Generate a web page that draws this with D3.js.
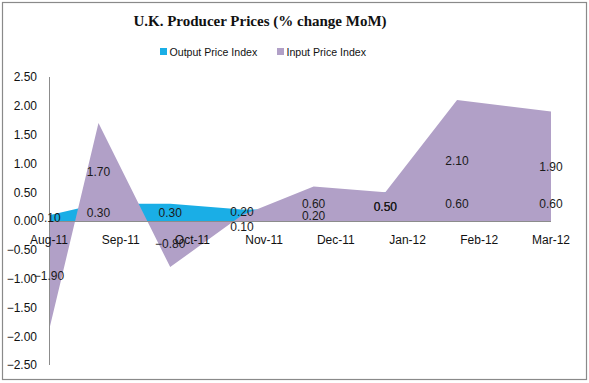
<!DOCTYPE html>
<html><head><meta charset="utf-8">
<script src="https://cdn.jsdelivr.net/npm/d3@7"></script>
<style>body{margin:0;background:#fff}svg{display:block}</style>
</head><body>
<svg id="c" width="589" height="383"></svg>
<script>
const categories = ["Aug-11","Sep-11","Oct-11","Nov-11","Dec-11","Jan-12","Feb-12","Mar-12"];
const outputPrice = [0.10,0.30,0.30,0.20,0.20,0.50,0.60,0.60];
const inputPrice = [-1.90,1.70,-0.80,0.10,0.60,0.50,2.10,1.90];
const yTicks = [2.5,2.0,1.5,1.0,0.5,0.0,-0.5,-1.0,-1.5,-2.0,-2.5];
const seriesNames = ["Output Price Index","Input Price Index"];
const colors = ["#1AAEE6","#B1A0C7"];

const svg = d3.select("#c");
const font = "'Liberation Sans', Arial, sans-serif";

svg.append("rect").attr("x",2.5).attr("y",2.5).attr("width",584).attr("height",377)
  .attr("fill","#fff").attr("stroke","#8a8a8a").attr("stroke-width",1.2);

const x = d3.scalePoint().domain(categories).range([49,551]);
const y = d3.scaleLinear().domain([-2.5,2.5]).range([365,77]);
const n = categories.length;
const xd = i => (i===0 || i===n-1) ? x(categories[i]) : x(categories[i]) - 0.31*x.step();

const series = [outputPrice, inputPrice];
series.forEach((vals,k)=>{
  const area = d3.area().x((d,i)=>xd(i)).y0(y(0)).y1(d=>y(d));
  svg.append("path").datum(vals).attr("d",area).attr("fill",colors[k]);
});

// axes
svg.append("line").attr("x1",49.5).attr("x2",49.5).attr("y1",y(2.5)).attr("y2",y(-2.5))
  .attr("stroke","#8c8c8c").attr("stroke-width",1);
svg.append("line").attr("x1",49).attr("x2",551).attr("y1",Math.round(y(0))+0.5).attr("y2",Math.round(y(0))+0.5)
  .attr("stroke","#8c8c8c").attr("stroke-width",1);

svg.append("g").selectAll("text").data(yTicks).join("text")
  .attr("x",37).attr("y",d=>y(d)).attr("dy","0.36em").attr("text-anchor","end")
  .attr("font-family",font).attr("font-size",12).attr("fill","#111")
  .text(d=>d3.format(".2f")(d));

svg.append("g").selectAll("text").data(categories).join("text")
  .attr("x",d=>x(d)).attr("y",243.5).attr("text-anchor","middle")
  .attr("font-family",font).attr("font-size",12).attr("fill","#111")
  .text(d=>d);

// data labels (centered at mid-height of area)
const labels = [];
series.forEach((vals,k)=>vals.forEach((v,i)=>{
  labels.push({i, v, k, cx: xd(i), cy: y(v/2)});
}));
// resolve close overlaps of different values at same category
for (let i=0;i<n;i++){
  const a = labels.find(l=>l.i===i && l.k===0), b = labels.find(l=>l.i===i && l.k===1);
  if (a.v!==b.v && Math.abs(a.cy-b.cy) < 10){
    const top = a.cy<b.cy?a:b, bot = a.cy<b.cy?b:a;
    top.cy -= 4; bot.cy += 9;
  }
}
svg.append("g").selectAll("text").data(labels).join("text")
  .attr("x",d=>d.cx).attr("y",d=>d.cy).attr("dy","0.36em").attr("text-anchor","middle")
  .attr("font-family",font).attr("font-size",12).attr("fill","#1a1a1a")
  .text(d=>d3.format(".2f")(d.v));

// title
svg.append("text").attr("x",260).attr("y",26).attr("text-anchor","middle")
  .attr("font-family","'Liberation Serif', 'Times New Roman', serif").attr("font-weight","bold")
  .attr("font-size",15).attr("fill","#111").text("U.K. Producer Prices (% change MoM)");

// legend
const legX = [160, 277];
seriesNames.forEach((s,k)=>{
  svg.append("rect").attr("x",legX[k]).attr("y",48).attr("width",7).attr("height",7).attr("fill",colors[k]);
  svg.append("text").attr("x",legX[k]+9.5).attr("y",55.5).attr("font-family",font)
    .attr("font-size",10.6).attr("fill","#111").text(s);
});
</script>
</body></html>
